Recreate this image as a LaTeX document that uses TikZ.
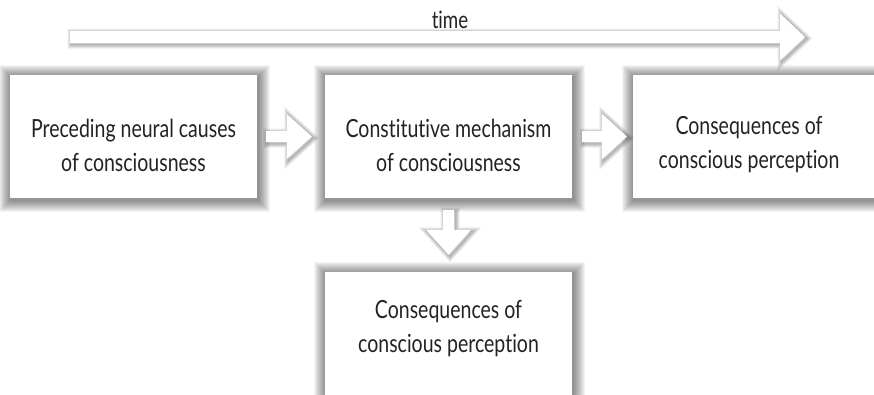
\documentclass[tikz,border=0pt]{standalone}
\usepackage{fontspec}
\setmainfont{Lato}[FakeStretch=0.78, Ligatures={NoCommon}]
\usetikzlibrary{calc}
\definecolor{txt}{HTML}{232323}
\tikzset{
  boxshadow/.style={
    preaction={draw=black, draw opacity=0.045, line width=24pt, transform canvas={xshift=0.5pt,yshift=-1.5pt}},
    preaction={draw=black, draw opacity=0.045, line width=22pt, transform canvas={xshift=0.5pt,yshift=-1.5pt}},
    preaction={draw=black, draw opacity=0.045, line width=20pt, transform canvas={xshift=0.5pt,yshift=-1.5pt}},
    preaction={draw=black, draw opacity=0.045, line width=18pt, transform canvas={xshift=0.5pt,yshift=-1.5pt}},
    preaction={draw=black, draw opacity=0.045, line width=16pt, transform canvas={xshift=0.5pt,yshift=-1.5pt}},
    preaction={draw=black, draw opacity=0.045, line width=14pt, transform canvas={xshift=0.5pt,yshift=-1.5pt}},
    preaction={draw=black, draw opacity=0.045, line width=12pt, transform canvas={xshift=0.5pt,yshift=-1.5pt}},
    preaction={draw=black, draw opacity=0.045, line width=10pt, transform canvas={xshift=0.5pt,yshift=-1.5pt}},
    preaction={draw=black, draw opacity=0.045, line width=8pt, transform canvas={xshift=0.5pt,yshift=-1.5pt}},
    preaction={draw=black, draw opacity=0.045, line width=6pt, transform canvas={xshift=0.5pt,yshift=-1.5pt}},
    preaction={draw=black, draw opacity=0.045, line width=4pt, transform canvas={xshift=0.5pt,yshift=-1.5pt}},
    preaction={draw=black, draw opacity=0.045, line width=2pt, transform canvas={xshift=0.5pt,yshift=-1.5pt}}},
  arrowshadow/.style={
    preaction={draw=black, draw opacity=0.07, line width=8pt, line join=miter, transform canvas={xshift=1.5pt,yshift=-1.5pt}},
    preaction={draw=black, draw opacity=0.07, line width=6pt, line join=miter, transform canvas={xshift=1.5pt,yshift=-1.5pt}},
    preaction={draw=black, draw opacity=0.08, line width=4pt, line join=miter, transform canvas={xshift=1.5pt,yshift=-1.5pt}},
    preaction={draw=black, draw opacity=0.09, line width=2pt, line join=miter, transform canvas={xshift=1.5pt,yshift=-1.5pt}}},
  boxnode/.style={rectangle, fill=white, inner sep=0pt, minimum width=247pt, minimum height=123pt, boxshadow},
  labeltext/.style={align=center, text=txt, font=\fontsize{25}{34}\selectfont, inner sep=0pt},
  blockarrow/.style={fill=white, arrowshadow},
}
% horizontal block arrow: tail, tip, shaft half width, head half width, head length
\newcommand\harrowblk[5]{%
  \path[blockarrow] ($(#1)+(0,#3)$) -- ($(#2)+(-#5,#3)$) -- ($(#2)+(-#5,#4)$) -- (#2)
    -- ($(#2)+(-#5,-#4)$) -- ($(#2)+(-#5,-#3)$) -- ($(#1)+(0,-#3)$) -- cycle;}
% vertical (downward) block arrow
\newcommand\varrowblk[5]{%
  \path[blockarrow] ($(#1)+(#3,0)$) -- ($(#2)+(#3,-#5)$) -- ($(#2)+(#4,-#5)$) -- (#2)
    -- ($(#2)+(-#4,-#5)$) -- ($(#2)+(-#3,-#5)$) -- ($(#1)+(-#3,0)$) -- cycle;}
\begin{document}
\begin{tikzpicture}[x=1pt,y=-1pt]
\useasboundingbox (0,0) rectangle (874,394);
\clip (0,0) rectangle (874,394);
\fill[white] (0,0) rectangle (874,394);

% time arrow
\coordinate (ts) at (70,37);
\coordinate (te) at (805,37);
\harrowblk{ts}{te}{6}{23.5}{25}
\node[labeltext, anchor=base, font=\fontsize{24}{28}\selectfont] (time) at (450,28) {time};

% boxes
\node[boxnode] (b1) at (133.5,136.5) {};
\node[boxnode] (b2) at (448.5,136.5) {};
\node[boxnode] (b3) at (756.5,136.5) {};
\node[boxnode] (b4) at (448.5,333.5) {};

\node[labeltext] (t1) at (133.5,145) {Preceding neural causes\\of consciousness};
\node[labeltext] (t2) at (448.5,145) {Constitutive mechanism\\of consciousness};
\node[labeltext] (t3) at (749,145) {Consequences of\\conscious perception};
\node[labeltext] (t4) at (448.5,329) {Consequences of\\conscious perception};

% connectors
\coordinate (a1s) at ([xshift=9pt]b1.east);
\coordinate (a1e) at ([xshift=-13pt]b2.west);
\harrowblk{a1s}{a1e}{5.5}{22.5}{25}
\coordinate (a2s) at ([xshift=10pt]b2.east);
\coordinate (a2e) at ([xshift=-6pt]b3.west);
\harrowblk{a2s}{a2e}{5.5}{23}{25}
\coordinate (a3s) at ([yshift=-12pt]b2.south);
\coordinate (a3e) at ([yshift=17pt]b4.north);
\varrowblk{a3s}{a3e}{5.5}{22.5}{25}
\end{tikzpicture}
\end{document}
